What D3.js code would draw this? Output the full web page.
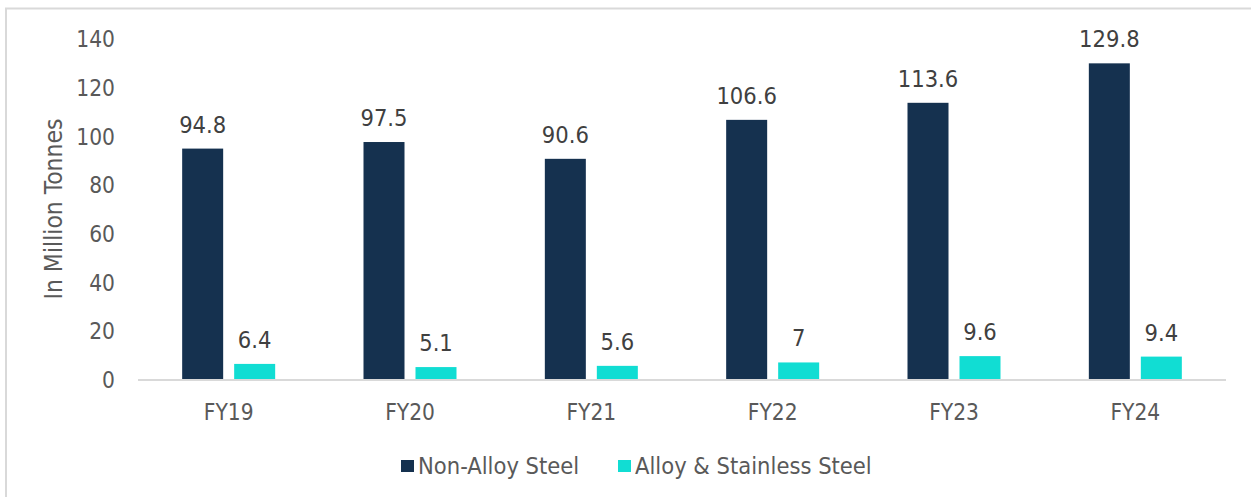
<!DOCTYPE html>
<html>
<head>
<meta charset="utf-8">
<script src="https://cdn.jsdelivr.net/npm/d3@7"></script>
<style>
  html, body { margin: 0; padding: 0; background: #ffffff; }
  svg { display: block; }
  text { font-family: "DejaVu Sans Condensed", "DejaVu Sans", sans-serif; }
</style>
</head>
<body>
<svg id="chart" width="1251" height="497"></svg>
<script>
const categories = ["FY19", "FY20", "FY21", "FY22", "FY23", "FY24"];
const seriesNames = ["Non-Alloy Steel", "Alloy & Stainless Steel"];
const nonAlloy = [94.8, 97.5, 90.6, 106.6, 113.6, 129.8];
const alloyStainless = [6.4, 5.1, 5.6, 7, 9.6, 9.4];
const yTicks = [0, 20, 40, 60, 80, 100, 120, 140];
const colors = ["#15314f", "#11ddd3"];
const seriesValues = [nonAlloy, alloyStainless];

const svg = d3.select("#chart");
const W = 1251, H = 497;

// frame
svg.append("rect")
  .attr("x", 6).attr("y", 8.5)
  .attr("width", W + 10).attr("height", H + 10)
  .attr("fill", "none").attr("stroke", "#d9d9d9").attr("stroke-width", 2);

const plot = { left: 138, right: 1226, top: 38.5, bottom: 379.5 };

const x0 = d3.scaleBand().domain(categories).range([plot.left, plot.right]).padding(0);
const groupW = 93;
const x1 = d3.scaleBand().domain(seriesNames).range([0, groupW]).paddingInner(11 / 52).paddingOuter(0);
const y = d3.scaleLinear().domain([0, 140]).range([plot.bottom, plot.top]);

// y axis labels
const yAxis = d3.axisLeft(y).tickValues(yTicks).tickSize(0).tickPadding(0).tickFormat(d3.format("d"));
const yg = svg.append("g").attr("transform", `translate(115,0)`).call(yAxis);
yg.select(".domain").remove();
yg.selectAll("text").attr("fill", "#595959").style("font-size", "22.5px")
  .style("font-family", '"DejaVu Sans Condensed", "DejaVu Sans", sans-serif').attr("dy", "0.36em");

// y title
svg.append("text")
  .attr("transform", "translate(62,209) rotate(-90)")
  .attr("text-anchor", "middle")
  .attr("fill", "#595959")
  .style("font-size", "24.5px")
  .text("In Million Tonnes");

// bars
const rows = categories.map((c, i) => ({ cat: c, vals: seriesNames.map((s, j) => ({ s, j, v: seriesValues[j][i] })) }));
const groups = svg.selectAll(".grp").data(rows).enter().append("g")
  .attr("transform", d => `translate(${x0(d.cat) + (x0.bandwidth() - groupW) / 2},0)`);

groups.selectAll("rect").data(d => d.vals).enter().append("rect")
  .attr("x", d => x1(d.s))
  .attr("width", x1.bandwidth())
  .attr("y", d => y(d.v))
  .attr("height", d => y(0) - y(d.v))
  .attr("fill", d => colors[d.j]);

groups.selectAll("text.lbl").data(d => d.vals).enter().append("text")
  .attr("class", "lbl")
  .attr("x", d => x1(d.s) + x1.bandwidth() / 2)
  .attr("y", d => y(d.v) - 16)
  .attr("text-anchor", "middle")
  .attr("fill", "#404040")
  .style("font-size", "23.5px")
  .text(d => String(d.v));

// x axis
const xAxis = d3.axisBottom(x0).tickSize(0).tickPadding(0);
const xg = svg.append("g").attr("transform", `translate(0,${plot.bottom})`).call(xAxis);
xg.select(".domain").remove();
xg.selectAll("text").attr("fill", "#595959").style("font-size", "22.5px")
  .style("font-family", '"DejaVu Sans Condensed", "DejaVu Sans", sans-serif')
  .attr("y", 40).attr("dy", 0);
svg.append("line")
  .attr("x1", plot.left).attr("x2", plot.right)
  .attr("y1", plot.bottom + 0.5).attr("y2", plot.bottom + 0.5)
  .attr("stroke", "#d9d9d9").attr("stroke-width", 2);

// legend
const legendX = [401, 618];
const lg = svg.selectAll(".leg").data(seriesNames).enter().append("g")
  .attr("transform", (d, i) => `translate(${legendX[i]},460)`);
lg.append("rect").attr("width", 13).attr("height", 12).attr("fill", (d, i) => colors[i]);
lg.append("text").attr("x", 17).attr("y", 14)
  .attr("fill", "#595959").style("font-size", "23.5px").text(d => d);
</script>
</body>
</html>
